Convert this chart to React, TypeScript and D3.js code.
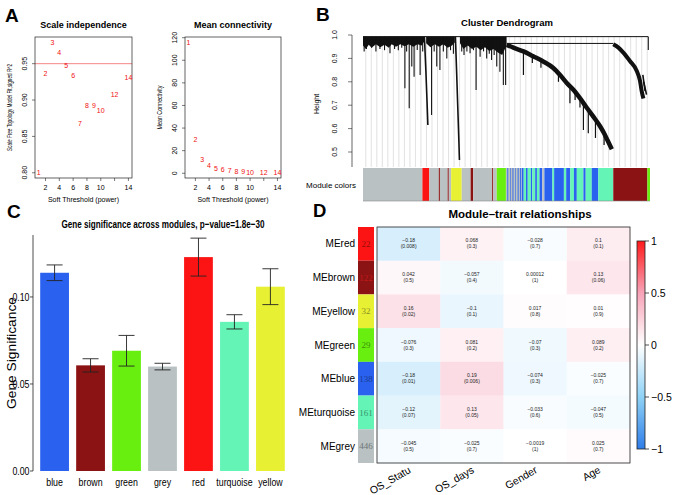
import * as d3 from 'd3';

const sans = "'Liberation Sans', Arial, Helvetica, sans-serif";
const narrow = "'Liberation Sans Narrow', 'Liberation Sans', Arial, sans-serif";

// ---------- A: soft threshold scan ----------
const powers = [1, 2, 3, 4, 5, 6, 7, 8, 9, 10, 12, 14];
const fitR2 = [0.8, 0.936, 0.979, 0.965, 0.947, 0.934, 0.867, 0.893, 0.892, 0.885, 0.907, 0.931];
const meanK = [115.6, 29.8, 12.3, 7.0, 4.4, 3.0, 2.2, 1.6, 1.2, 1.0, 0.6, 0.4];
const powerTicks = [2, 4, 6, 8, 10, 12, 14];
const powerTickLabels = ['2', '4', '6', '8', '10', '', '14'];
const r2Ticks = [0.8, 0.85, 0.9, 0.95];
const kTicks = [0, 20, 40, 60, 80, 100, 120];
const r2Cutoff = 0.95;

// ---------- B: dendrogram (leaf order as fraction 0..1, merge height) ----------
const dendroTop = 0.993;
const dendroTicks = [0.5, 0.6, 0.7, 0.8, 0.9, 1.0];
const leafMasses: [number, number][][] = [
  [[0, 0.955], [0.01, 0.94], [0.02, 0.958], [0.03, 0.945], [0.045, 0.96], [0.06, 0.948], [0.075, 0.958], [0.09, 0.945], [0.1, 0.96], [0.115, 0.95], [0.13, 0.96], [0.145, 0.952], [0.16, 0.96], [0.175, 0.95], [0.19, 0.96], [0.205, 0.955], [0.213, 0.972]],
  [[0.22, 0.965], [0.235, 0.948], [0.25, 0.96], [0.265, 0.95], [0.28, 0.96], [0.295, 0.945], [0.31, 0.955], [0.32, 0.968]],
  [[0.338, 0.965], [0.35, 0.94], [0.365, 0.955], [0.38, 0.94], [0.395, 0.95], [0.41, 0.935], [0.425, 0.948], [0.44, 0.932], [0.455, 0.94], [0.47, 0.925], [0.485, 0.915], [0.5, 0.955]],
];
const leafSpikes: [number, number][] = [
  [0.004, 0.93], [0.012, 0.94], [0.03, 0.945], [0.045, 0.93], [0.059, 0.94], [0.075, 0.935], [0.094, 0.922],
  [0.11, 0.94], [0.123, 0.935], [0.135, 0.945], [0.146, 0.772], [0.152, 0.93], [0.161, 0.687], [0.17, 0.865],
  [0.178, 0.822], [0.189, 0.936], [0.199, 0.829], [0.208, 0.93], [0.239, 0.658], [0.248, 0.93], [0.257, 0.865],
  [0.268, 0.85], [0.28, 0.93], [0.292, 0.9], [0.305, 0.935], [0.315, 0.92], [0.344, 0.93], [0.352, 0.915],
  [0.362, 0.93], [0.373, 0.922], [0.385, 0.935], [0.394, 0.765], [0.408, 0.907], [0.42, 0.93], [0.431, 0.9],
  [0.44, 0.92], [0.448, 0.893], [0.457, 0.915], [0.466, 0.865], [0.477, 0.843], [0.489, 0.786], [0.497, 0.786],
  [0.994, 0.936],
];
const longBranches: [number, number][][] = [
  [[0.214, 0.993], [0.219, 0.85], [0.223, 0.72], [0.226, 0.615]],
  [[0.322, 0.993], [0.326, 0.85], [0.33, 0.7], [0.334, 0.55], [0.336, 0.466]],
  [[0.975, 0.83], [0.983, 0.76]],
  [[0.978, 0.8], [0.988, 0.745]],
];
const bigArc: [number, number][] = [
  [0.501, 0.958], [0.524, 0.946], [0.559, 0.93], [0.593, 0.909], [0.628, 0.887], [0.663, 0.859], [0.686, 0.83],
  [0.71, 0.795], [0.733, 0.766], [0.756, 0.73], [0.779, 0.69], [0.802, 0.652], [0.826, 0.61], [0.84, 0.58],
  [0.852, 0.55], [0.867, 0.512],
];
const bigArcSpikes: [number, number][] = [
  [0.559, 0.829], [0.59, 0.88], [0.62, 0.86], [0.681, 0.8], [0.721, 0.708], [0.739, 0.722], [0.756, 0.69],
  [0.768, 0.594], [0.785, 0.58], [0.81, 0.56], [0.84, 0.53],
];
const rightArc: [number, number][] = [
  [0.872, 0.96], [0.89, 0.946], [0.907, 0.925], [0.93, 0.889], [0.954, 0.846], [0.965, 0.805], [0.971, 0.76], [0.977, 0.729],
];
const colorBlocks: [number, number, string][] = [
  [0, 0.207, 'grey'], [0.207, 0.231, 'red'], [0.231, 0.264, 'grey'], [0.264, 0.268, 'brown'], [0.268, 0.295, 'grey'],
  [0.295, 0.299, 'brown'], [0.299, 0.307, 'grey'], [0.307, 0.344, 'yellow'], [0.344, 0.375, 'grey'], [0.375, 0.384, 'brown'],
  [0.384, 0.45, 'grey'], [0.45, 0.454, 'brown'], [0.454, 0.466, 'grey'], [0.466, 0.498, 'green'], [0.498, 0.553, 'grey'],
  [0.503, 0.506, 'blue'], [0.513, 0.515, 'blue'], [0.521, 0.524, 'blue'], [0.531, 0.533, 'blue'], [0.539, 0.542, 'blue'],
  [0.547, 0.55, 'blue'], [0.553, 0.56, 'blue'], [0.56, 0.568, 'turquoise'], [0.568, 0.574, 'blue'], [0.574, 0.585, 'turquoise'],
  [0.585, 0.59, 'blue'], [0.59, 0.6, 'turquoise'], [0.6, 0.606, 'blue'], [0.606, 0.615, 'turquoise'], [0.615, 0.625, 'blue'],
  [0.625, 0.632, 'grey'], [0.632, 0.66, 'blue'], [0.66, 0.666, 'turquoise'], [0.666, 0.7, 'blue'], [0.7, 0.708, 'turquoise'],
  [0.708, 0.722, 'blue'], [0.722, 0.735, 'turquoise'], [0.735, 0.745, 'blue'], [0.745, 0.768, 'turquoise'], [0.768, 0.776, 'blue'],
  [0.776, 0.797, 'turquoise'], [0.797, 0.82, 'blue'], [0.82, 0.872, 'turquoise'], [0.872, 0.991, 'brown'], [0.991, 1, 'green'],
];

// ---------- C: gene significance ----------
const modules = ['blue', 'brown', 'green', 'grey', 'red', 'turquoise', 'yellow'];
const gsMean = [0.1139, 0.0607, 0.0691, 0.06, 0.1229, 0.0857, 0.1059];
const gsErr = [0.0045, 0.0038, 0.0088, 0.0019, 0.0109, 0.0041, 0.0103];
const gsTicks = [0, 0.05, 0.1];

// ---------- D: module-trait ----------
const traits = ['OS_Statu', 'OS_days', 'Gender', 'Age'];
const meNames = ['MEred', 'MEbrown', 'MEyellow', 'MEgreen', 'MEblue', 'MEturquoise', 'MEgrey'];
const meModules = ['red', 'brown', 'yellow', 'green', 'blue', 'turquoise', 'grey'];
const meSizes = [22, 122, 32, 29, 138, 161, 446];
const corValues = [
  [-0.18, 0.068, -0.028, 0.1],
  [0.042, -0.057, 0.00012, 0.13],
  [0.16, -0.1, 0.017, 0.01],
  [-0.076, 0.081, -0.07, 0.089],
  [-0.18, 0.19, -0.074, -0.025],
  [-0.12, 0.13, -0.033, -0.047],
  [-0.045, -0.025, -0.0019, 0.025],
];
const corPvalues = [
  ['0.008', '0.3', '0.7', '0.1'],
  ['0.5', '0.4', '1', '0.06'],
  ['0.02', '0.1', '0.8', '0.9'],
  ['0.3', '0.2', '0.3', '0.2'],
  ['0.01', '0.006', '0.3', '0.7'],
  ['0.07', '0.05', '0.6', '0.5'],
  ['0.5', '0.7', '1', '0.7'],
];
const legendTicks = [-1, -0.5, 0, 0.5, 1];

const moduleColor: Record<string, string> = {
  blue: '#2a62ef',
  brown: '#8c1313',
  green: '#68ef10',
  grey: '#b9c1c3',
  red: '#fc1414',
  turquoise: '#63f4b6',
  yellow: '#e8f034',
};

const minus = (s: string) => s.replace(/-/g, '\u2212');

function ThresholdPlot({ left, right, title, yLabel, yLabelLen, values, yDomain, yTicks, yFmt, cutoff }: any) {
  const top = 37;
  const bottom = 178;
  const x = d3.scaleLinear().domain([0.48, 14.52]).range([left, right]);
  const y = d3.scaleLinear().domain(yDomain).range([bottom, top]);
  const mid = (left + right) / 2;
  return (
    <g fontSize={7}>
      <text x={mid} y={28} textAnchor="middle" fontWeight="bold" fontSize={9}>{title}</text>
      {cutoff !== undefined && (
        <line x1={left} x2={right} y1={y(cutoff)} y2={y(cutoff)} stroke="#f05050" strokeWidth={0.7} />
      )}
      <rect x={left} y={top} width={right - left} height={bottom - top} fill="none" stroke="#222" strokeWidth={0.7} />
      {powerTicks.map((t, i) => (
        <g key={t}>
          <line x1={x(t)} x2={x(t)} y1={bottom} y2={bottom + 3} stroke="#222" strokeWidth={0.6} />
          <text x={x(t)} y={bottom + 12} textAnchor="middle">{powerTickLabels[i]}</text>
        </g>
      ))}
      {yTicks.map((t: number) => (
        <g key={t}>
          <line x1={left - 3} x2={left} y1={y(t)} y2={y(t)} stroke="#222" strokeWidth={0.6} />
          <text transform={`translate(${left - 8},${y(t)}) rotate(-90)`} textAnchor="middle">{yFmt(t)}</text>
        </g>
      ))}
      <text x={mid} y={202} textAnchor="middle">Soft Threshold (power)</text>
      <text transform={`translate(${left - 23},${(top + bottom) / 2}) rotate(-90)`} textAnchor="middle"
        fontSize={6.5} textLength={yLabelLen} lengthAdjust="spacingAndGlyphs">{yLabel}</text>
      {powers.map((p, i) => (
        <text key={p} x={x(p)} y={y(values[i])} dy="0.35em" textAnchor="middle" fill="#f01010">{p}</text>
      ))}
    </g>
  );
}

function PanelA() {
  return (
    <g>
      <text x={5} y={22} fontSize={19} fontWeight="bold">A</text>
      <ThresholdPlot left={35} right={132} title="Scale independence"
        yLabel="Scale Free Topology Model Fit,signed R^2" yLabelLen={87}
        values={fitR2} yDomain={[0.7928, 0.9867]} yTicks={r2Ticks} yFmt={(d: number) => d.toFixed(2)} cutoff={r2Cutoff} />
      <ThresholdPlot left={185} right={281} title="Mean connectivity"
        yLabel="Mean Connectivity" yLabelLen={44}
        values={meanK} yDomain={[-4.2, 120.6]} yTicks={kTicks} yFmt={(d: number) => String(d)} />
    </g>
  );
}

function PanelB() {
  const x = d3.scaleLinear().domain([0, 1]).range([363, 650]);
  const y = d3.scaleLinear().domain([0.5, 1]).range([152, 35]);
  const axisBottom = 167;
  const line = d3.line<[number, number]>().x((d) => x(d[0])).y((d) => y(d[1]));
  const arcLine = d3.line<[number, number]>().x((d) => x(d[0])).y((d) => y(d[1])).curve(d3.curveMonotoneX);
  const arcH = d3.scaleLinear().domain(bigArc.map((d) => d[0])).range(bigArc.map((d) => d[1]));
  const guides = d3.range(52).map((i) => (i + 0.5) / 52);
  return (
    <g>
      <text x={316} y={21} fontSize={19} fontWeight="bold">B</text>
      <text x={507} y={26} textAnchor="middle" fontWeight="bold" fontSize={9.5}>Cluster Dendrogram</text>
      <line x1={352} x2={352} y1={y(1)} y2={axisBottom} stroke="#222" strokeWidth={0.7} />
      {dendroTicks.map((t) => (
        <g key={t} fontSize={7}>
          <line x1={348} x2={352} y1={y(t)} y2={y(t)} stroke="#222" strokeWidth={0.6} />
          <text transform={`translate(${337},${y(t)}) rotate(-90)`} textAnchor="middle">{t.toFixed(1)}</text>
        </g>
      ))}
      <text transform={`translate(${319},${104}) rotate(-90)`} textAnchor="middle" fontSize={7}>Height</text>
      {guides.map((g) => (
        <line key={g} x1={x(g)} x2={x(g)} y1={y(dendroTop)} y2={axisBottom} stroke="#d4d4d4" strokeWidth={0.7} />
      ))}
      <line x1={x(0)} x2={x(0.994)} y1={y(dendroTop)} y2={y(dendroTop)} stroke="#111" strokeWidth={1} />
      <line x1={x(0.501)} x2={x(0.872)} y1={y(0.964)} y2={y(0.964)} stroke="#111" strokeWidth={1} />
      {leafMasses.map((m, i) => {
        const pts: [number, number][] = [[m[0][0], dendroTop], ...m, [m[m.length - 1][0], dendroTop]];
        return <path key={i} d={line(pts)! + 'Z'} fill="#111" />;
      })}
      {leafSpikes.map(([f, h], i) => (
        <line key={i} x1={x(f)} x2={x(f)} y1={y(dendroTop)} y2={y(h)} stroke="#111" strokeWidth={1.1} />
      ))}
      {longBranches.map((b, i) => (
        <path key={i} d={line(b)!} fill="none" stroke="#111" strokeWidth={1.6} />
      ))}
      <path d={arcLine(bigArc)!} fill="none" stroke="#111" strokeWidth={4.5} />
      {bigArcSpikes.map(([f, h], i) => (
        <line key={i} x1={x(f)} x2={x(f)} y1={y(arcH(f))} y2={y(h)} stroke="#111" strokeWidth={1.2} />
      ))}
      <path d={arcLine(rightArc)!} fill="none" stroke="#111" strokeWidth={4} />
      <text x={331} y={188} textAnchor="middle" fontSize={8}>Module colors</text>
      {colorBlocks.map(([a, b, c], i) => (
        <rect key={i} x={x(a)} y={168} width={x(b) - x(a)} height={33} fill={moduleColor[c]} />
      ))}
      <line x1={x(0)} x2={x(1)} y1={201} y2={201} stroke="#888" strokeWidth={0.6} />
    </g>
  );
}

function PanelC() {
  const x = d3.scaleBand().domain(modules).range([33, 292]).paddingInner(0.2).paddingOuter(0.2);
  const y = d3.scaleLinear().domain([0, 0.1356]).range([471, 235]);
  return (
    <g>
      <text x={7} y={218} fontSize={19} fontWeight="bold">C</text>
      <text x={163} y={228} textAnchor="middle" fontFamily={narrow} fontWeight="bold" fontSize={11.5}
        textLength={203} lengthAdjust="spacingAndGlyphs">Gene significance across modules, p−value=1.8e−30</text>
      <line x1={33} x2={33} y1={235} y2={471} stroke="#222" strokeWidth={0.8} />
      {gsTicks.map((t) => (
        <g key={t}>
          <line x1={30} x2={33} y1={y(t)} y2={y(t)} stroke="#222" strokeWidth={0.8} />
          <text transform={`translate(29.5,${y(t) + 4}) scale(0.8,1)`} textAnchor="end" fontFamily={narrow} fontSize={11}>
            {t.toFixed(2)}
          </text>
        </g>
      ))}
      <text transform="translate(15.5,353) rotate(-90)" textAnchor="middle" fontSize={12} textLength={112}
        lengthAdjust="spacingAndGlyphs">Gene Significance</text>
      {modules.map((m, i) => {
        const cx = x(m)! + x.bandwidth() / 2;
        return (
          <g key={m}>
            <rect x={x(m)} y={y(gsMean[i])} width={x.bandwidth()} height={y(0) - y(gsMean[i])} fill={moduleColor[m]} />
            <line x1={cx} x2={cx} y1={y(gsMean[i] + gsErr[i])} y2={y(gsMean[i] - gsErr[i])} stroke="#222" strokeWidth={0.9} />
            <line x1={cx - 8} x2={cx + 8} y1={y(gsMean[i] + gsErr[i])} y2={y(gsMean[i] + gsErr[i])} stroke="#222" strokeWidth={0.9} />
            <line x1={cx - 8} x2={cx + 8} y1={y(gsMean[i] - gsErr[i])} y2={y(gsMean[i] - gsErr[i])} stroke="#222" strokeWidth={0.9} />
            <text transform={`translate(${cx},486) scale(0.8,1)`} textAnchor="middle" fontFamily={narrow} fontSize={11}>{m}</text>
          </g>
        );
      })}
    </g>
  );
}

function PanelD() {
  const x = d3.scaleBand().domain(traits).range([377, 630]);
  const y = d3.scaleBand().domain(meNames).range([227, 463]);
  const color = d3.scaleLinear<string>().domain([-1, -0.5, 0, 0.5, 1])
    .range(['#2f7de9', '#8fd2f6', '#ffffff', '#f7a3b8', '#ff1a1a']);
  const ly = d3.scaleLinear().domain([-1, 1]).range([449, 241]);
  return (
    <g>
      <defs>
        <linearGradient id="corGrad" x1="0" y1="1" x2="0" y2="0">
          {d3.range(0, 1.0001, 0.05).map((t) => (
            <stop key={t} offset={t} stopColor={color(-1 + 2 * t)} />
          ))}
        </linearGradient>
      </defs>
      <text x={313} y={217} fontSize={18.5} fontWeight="bold">D</text>
      <text x={520} y={218} textAnchor="middle" fontWeight="bold" fontSize={11.5}>Module–trait relationships</text>
      {meNames.map((name, r) => {
        const cy = y(name)! + y.bandwidth() / 2;
        const mc = moduleColor[meModules[r]];
        const ink = meModules[r] === 'brown' ? d3.color(mc)!.brighter(0.9).toString() : d3.color(mc)!.darker(1.4).toString();
        return (
          <g key={name}>
            <text x={355} y={cy} dy="0.35em" textAnchor="end" fontSize={10}>{name}</text>
            <rect x={358} y={y(name)} width={16} height={y.bandwidth()} fill={mc} />
            <text x={366} y={cy} dy="0.35em" textAnchor="middle" fontSize={9} fontFamily="'Liberation Serif', 'DejaVu Serif', serif" fill={ink}>
              {meSizes[r]}
            </text>
            {traits.map((t, c) => (
              <g key={t}>
                <rect x={x(t)} y={y(name)} width={x.bandwidth() + 0.3} height={y.bandwidth() + 0.3} fill={color(corValues[r][c])} />
                <text x={x(t)! + x.bandwidth() / 2} y={cy - 1.5} textAnchor="middle" fontSize={5} fill="#222">
                  {minus(String(corValues[r][c]))}
                </text>
                <text x={x(t)! + x.bandwidth() / 2} y={cy + 4.5} textAnchor="middle" fontSize={5} fill="#222">
                  ({corPvalues[r][c]})
                </text>
              </g>
            ))}
          </g>
        );
      })}
      <rect x={377} y={227} width={253} height={236} fill="none" stroke="#222" strokeWidth={0.8} />
      {traits.map((t) => (
        <text key={t} transform={`translate(${x(t)! + x.bandwidth() / 2 + 3},472) rotate(-30)`} textAnchor="end" fontSize={10.5}>
          {t}
        </text>
      ))}
      <rect x={637} y={241} width={8} height={208} fill="url(#corGrad)" stroke="#222" strokeWidth={0.8} />
      {legendTicks.map((t) => (
        <g key={t}>
          <line x1={645} x2={649} y1={ly(t)} y2={ly(t)} stroke="#222" strokeWidth={0.8} />
          <text x={651} y={ly(t)} dy="0.35em" fontSize={10.5}>{minus(String(t))}</text>
        </g>
      ))}
    </g>
  );
}

export default function App() {
  return (
    <svg width={675} height={495} fontFamily={sans} style={{ position: 'absolute', left: 0, top: 0, background: '#fff' }}>
      <rect width={675} height={495} fill="#fff" />
      <PanelA />
      <PanelB />
      <PanelC />
      <PanelD />
    </svg>
  );
}
